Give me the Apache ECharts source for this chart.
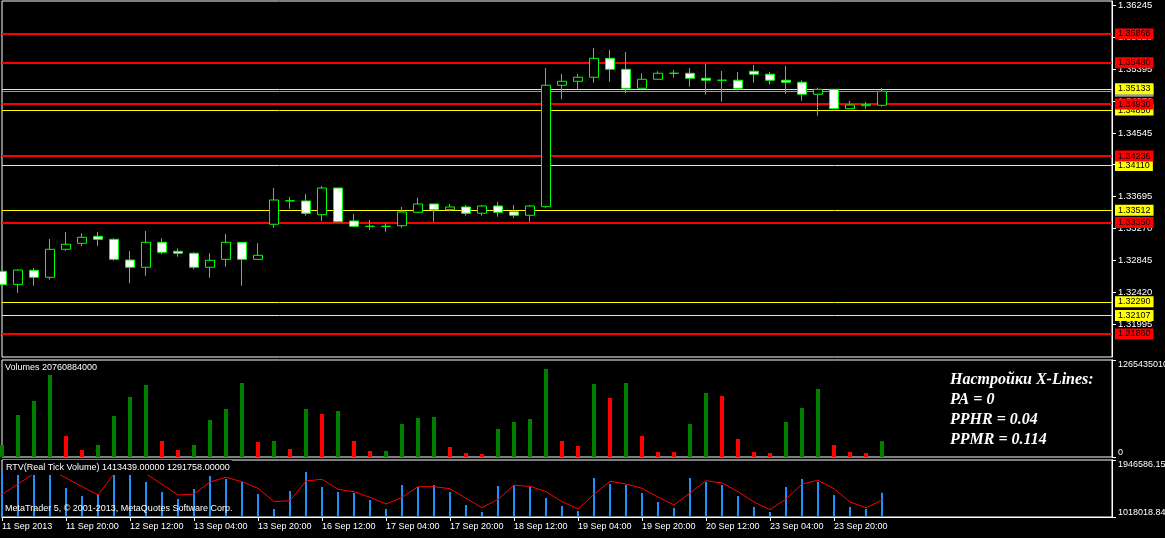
<!DOCTYPE html>
<html><head><meta charset="utf-8">
<script src="https://cdn.jsdelivr.net/npm/echarts@6/dist/echarts.min.js"></script>
<style>html,body{margin:0;padding:0;background:#000;}#c{width:1165px;height:538px;}</style>
</head><body><div id="c"></div><script>
// ---- data (H4 bars, 11 Sep 2013 04:00 .. 24 Sep 2013 08:00) ----
const opens  = [1.32697,1.32523,1.32710,1.32617,1.32991,1.33071,1.33164,1.33124,1.32848,1.32751,1.33084,1.32964,1.32938,1.32751,1.32857,1.33084,1.32857,1.33325,1.33636,1.33636,1.33453,1.33809,1.33369,1.33298,1.33298,1.33306,1.33485,1.33596,1.33520,1.33556,1.33472,1.33569,1.33493,1.33445,1.33560,1.35181,1.35234,1.35288,1.35541,1.35394,1.35141,1.35261,1.35341,1.35341,1.35274,1.35248,1.35248,1.35368,1.35328,1.35248,1.35221,1.35061,1.35127,1.34868,1.34908,1.34914];
const highs  = [1.32697,1.32724,1.32741,1.33128,1.33222,1.33205,1.33222,1.33138,1.32968,1.33235,1.33138,1.33004,1.32951,1.32938,1.33195,1.33084,1.33071,1.33809,1.33689,1.33729,1.33836,1.33809,1.33462,1.33382,1.33338,1.33556,1.33680,1.33596,1.33596,1.33582,1.33582,1.33622,1.33582,1.33582,1.35412,1.35332,1.35332,1.35679,1.35652,1.35625,1.35341,1.35368,1.35385,1.35412,1.35465,1.35372,1.35358,1.35452,1.35358,1.35438,1.35248,1.35149,1.35127,1.34971,1.34958,1.35145];
const lows   = [1.32518,1.32411,1.32505,1.32585,1.32972,1.33035,1.33035,1.32839,1.32537,1.32638,1.32924,1.32892,1.32724,1.32612,1.32759,1.32505,1.32857,1.33279,1.33533,1.33440,1.33369,1.33359,1.33285,1.33249,1.33226,1.33279,1.33485,1.33359,1.33498,1.33440,1.33440,1.33426,1.33409,1.33359,1.33546,1.34994,1.35127,1.35216,1.35229,1.35074,1.35141,1.35261,1.35282,1.35162,1.35055,1.34962,1.35109,1.35216,1.35189,1.35069,1.34975,1.34775,1.34868,1.34868,1.34868,1.34895];
const closes = [1.32518,1.32714,1.32617,1.32991,1.33058,1.33151,1.33124,1.32857,1.32751,1.33084,1.32951,1.32938,1.32751,1.32844,1.33084,1.32857,1.32911,1.33649,1.33640,1.33472,1.33809,1.33359,1.33298,1.33298,1.33298,1.33489,1.33596,1.33520,1.33556,1.33472,1.33569,1.33485,1.33445,1.33569,1.35181,1.35234,1.35288,1.35541,1.35394,1.35141,1.35261,1.35341,1.35341,1.35274,1.35248,1.35248,1.35141,1.35328,1.35248,1.35221,1.35061,1.35127,1.34868,1.34918,1.34922,1.35101];
// volumes in billions
const volumesBn = [15.65,54.79,73.06,106.97,27.40,9.13,15.65,53.49,78.27,93.93,20.87,9.13,15.65,48.27,62.62,96.54,19.57,20.87,10.44,62.62,56.10,60.01,20.87,7.83,7.95,43.05,50.88,52.18,13.05,5.22,3.91,36.53,45.66,49.57,114.80,20.87,14.35,95.23,76.97,96.54,27.40,6.52,6.40,43.05,83.49,79.58,23.48,6.52,5.22,45.66,63.92,88.71,15.65,6.52,5.22,20.76];
const rtvBars = [1750000,1850000,1800000,1900000,1490400,1360100,1392700,1850000,1900000,1588200,1425300,1311300,1474200,1685900,1637100,1588200,1392700,1148300,1441600,1751100,1506700,1425300,1409000,1295000,1148300,1539300,1506700,1539300,1425300,1213500,1099500,1523000,1539300,1506700,1327500,1197200,1115800,1653400,1555600,1539300,1409000,1262400,1164600,1653400,1588200,1539300,1360100,1180900,1099500,1506700,1637100,1588200,1376400,1180900,1148300,1413439];
const rtvLine = [1387800,1555600,1725000,1790000,1653300,1514900,1376400,1720000,1790000,1720000,1550000,1376400,1392700,1588200,1664800,1593100,1485500,1267300,1283600,1604500,1632200,1469300,1430200,1339000,1229800,1339000,1511600,1511600,1479000,1322700,1169500,1306400,1534400,1518100,1430200,1267300,1148300,1387800,1599600,1555600,1485500,1343800,1213500,1409000,1609400,1571900,1430200,1262400,1136900,1311300,1555600,1615900,1479000,1262400,1169500,1291758];
const timeTickIdx = [0,4,8,12,16,20,24,28,32,36,40,44,48,52];
const timeLabels = ['11 Sep 2013','11 Sep 20:00','12 Sep 12:00','13 Sep 04:00','13 Sep 20:00','16 Sep 12:00','17 Sep 04:00','17 Sep 20:00','18 Sep 12:00','19 Sep 04:00','19 Sep 20:00','20 Sep 12:00','23 Sep 04:00','23 Sep 20:00'];
const priceTicks = [1.31995,1.32420,1.32845,1.33270,1.33695,1.34120,1.34545,1.34970,1.35395,1.35820,1.36245];
const redLevels = [1.35866,1.35480,1.34930,1.34236,1.33350,1.31860];
const yellowLevels = [1.35133,1.34850,1.34110,1.33512,1.32290,1.32107];
const bidLevel = 1.35101;
const volMax = 126543501000, volMin = 0;
const rtvMax = 1946586.15, rtvMin = 1018018.84;
const volTitle = 'Volumes 20760884000';
const rtvTitle = 'RTV(Real Tick Volume) 1413439.00000 1291758.00000';
const copyright = 'MetaTrader 5, \u00a9 2001-2013, MetaQuotes Software Corp.';
const infoLines = ['Настройки X-Lines:','PA = 0','PPHR = 0.04','PPMR = 0.114'];

// ---- chart ----
const chart = echarts.init(document.getElementById('c'), null, {renderer:'canvas'});
const XMAX = 69.375;
const F = '"Liberation Sans", Arial, sans-serif';
const white = '#ffffff';
const gridCommon = {left:2, width:1110, show:true, borderColor:white, borderWidth:1, backgroundColor:'transparent', containLabel:false, outerBoundsMode:'none'};
function hiddenX(g){return {gridIndex:g,type:'value',min:0,max:XMAX,show:true,axisLine:{show:false,onZero:false},axisTick:{show:false},axisLabel:{show:false},splitLine:{show:false}};}
function subY(g, mn, mx, val, va, fmt){
  return {gridIndex:g,type:'value',position:'right',offset:0,min:mn,max:mx,splitLine:{show:false},
    axisLine:{show:true,onZero:false,lineStyle:{color:white}},
    axisTick:{show:true,length:4,customValues:[val],lineStyle:{color:white}},
    axisLabel:{show:true,customValues:[val],verticalAlign:va,color:white,fontFamily:F,fontSize:9,margin:6,formatter:fmt}};
}
const levelData = [];
levelData.push({yAxis:bidLevel, lineStyle:{color:'#9a9a9a',width:1}, label:{backgroundColor:'#9a9a9a'}});
yellowLevels.forEach(v=>levelData.push({yAxis:v, lineStyle:{color:'#ffff00',width:1}, label:{backgroundColor:'#ffff00'}}));
redLevels.forEach(v=>levelData.push({yAxis:v, lineStyle:{color:'#ff0000',width:2}, label:{backgroundColor:'#ff0000'}}));

const option = {
  backgroundColor:'#000',
  animation:false,
  grid:[
    Object.assign({top:1,height:356},gridCommon),
    Object.assign({top:360,height:97},gridCommon),
    Object.assign({top:460,height:57},gridCommon)
  ],
  xAxis:[hiddenX(0),hiddenX(1),
    {gridIndex:2,type:'value',min:0,max:XMAX,splitLine:{show:false},
     axisLine:{show:true,onZero:false,lineStyle:{color:white}},
     axisTick:{show:true,length:4,customValues:timeTickIdx,lineStyle:{color:white}},
     axisLabel:{show:true,customValues:timeTickIdx,align:'left',color:white,fontFamily:F,fontSize:9,margin:5,showMinLabel:true,
       formatter:v=>timeLabels[timeTickIdx.indexOf(Math.round(v))]}}],
  yAxis:[
    {gridIndex:0,type:'value',position:'right',min:1.31553,max:1.36306,splitLine:{show:false},
     axisLine:{show:true,onZero:false,lineStyle:{color:white}},
     axisTick:{show:true,length:4,customValues:priceTicks,lineStyle:{color:white}},
     axisLabel:{show:true,customValues:priceTicks,color:white,fontFamily:F,fontSize:9.5,margin:6,formatter:v=>v.toFixed(5)}},
    subY(1,volMin,volMax,volMax,'top',v=>String(Math.round(v))),
    subY(1,volMin,volMax,volMin,'bottom',v=>String(Math.round(v))),
    subY(2,rtvMin,rtvMax,rtvMax,'top',v=>v.toFixed(2)),
    subY(2,rtvMin,rtvMax,rtvMin,'bottom',v=>v.toFixed(2))
  ],
  series:[
    {type:'line',xAxisIndex:0,yAxisIndex:0,data:[],clip:false,silent:true,z:3,
     markLine:{silent:true,symbol:['none','none'],animation:false,precision:5,
       label:{show:true,position:'end',distance:3,color:'#000',fontFamily:F,fontSize:9,padding:[1,3,1,3],formatter:p=>Number(p.value).toFixed(5)},
       lineStyle:{type:'solid'},emphasis:{disabled:true},data:levelData}},
    {type:'candlestick',xAxisIndex:0,yAxisIndex:0,clip:true,barWidth:9,z:5,
     encode:{x:0,y:[1,2,3,4]},
     itemStyle:{color:'#000',color0:'#ffffff',borderColor:'#00ff00',borderColor0:'#00ff00',borderColorDoji:'#00ff00',borderWidth:1},
     data:opens.map((o,i)=>[i,o,closes[i],lows[i],highs[i]])},
    {type:'bar',xAxisIndex:1,yAxisIndex:1,barWidth:4,clip:true,
     data:volumesBn.map((v,i)=>({value:[i,v*1e9],itemStyle:{color:(i===0||v>volumesBn[i-1])?'#008000':'#ff0000'}}))},
    {type:'bar',xAxisIndex:2,yAxisIndex:3,barWidth:2,clip:true,itemStyle:{color:'#1e90ff'},
     data:rtvBars.map((v,i)=>[i,v])},
    {type:'line',xAxisIndex:2,yAxisIndex:3,clip:true,symbol:'none',lineStyle:{color:'#ff0000',width:1},z:4,
     data:rtvLine.map((v,i)=>[i,v])}
  ],
  graphic:[
    {type:'text',x:5,y:363,z:100,style:{text:volTitle,fill:white,font:'9px '+F,verticalAlign:'top'}},
    {type:'text',x:3,y:460,z:100,style:{text:rtvTitle,fill:white,font:'9px '+F,verticalAlign:'top',backgroundColor:'#000',padding:[3,2,3,3]}},
    {type:'text',x:5,y:504,z:100,style:{text:copyright,fill:white,font:'9px '+F,verticalAlign:'top'}}
  ].concat(infoLines.map((t,i)=>({type:'text',x:950,y:372+i*20,z:100,style:{text:t,fill:white,font:'italic bold 16px "Liberation Serif", serif',verticalAlign:'top'}})))
};
chart.setOption(option);
</script></body></html>
